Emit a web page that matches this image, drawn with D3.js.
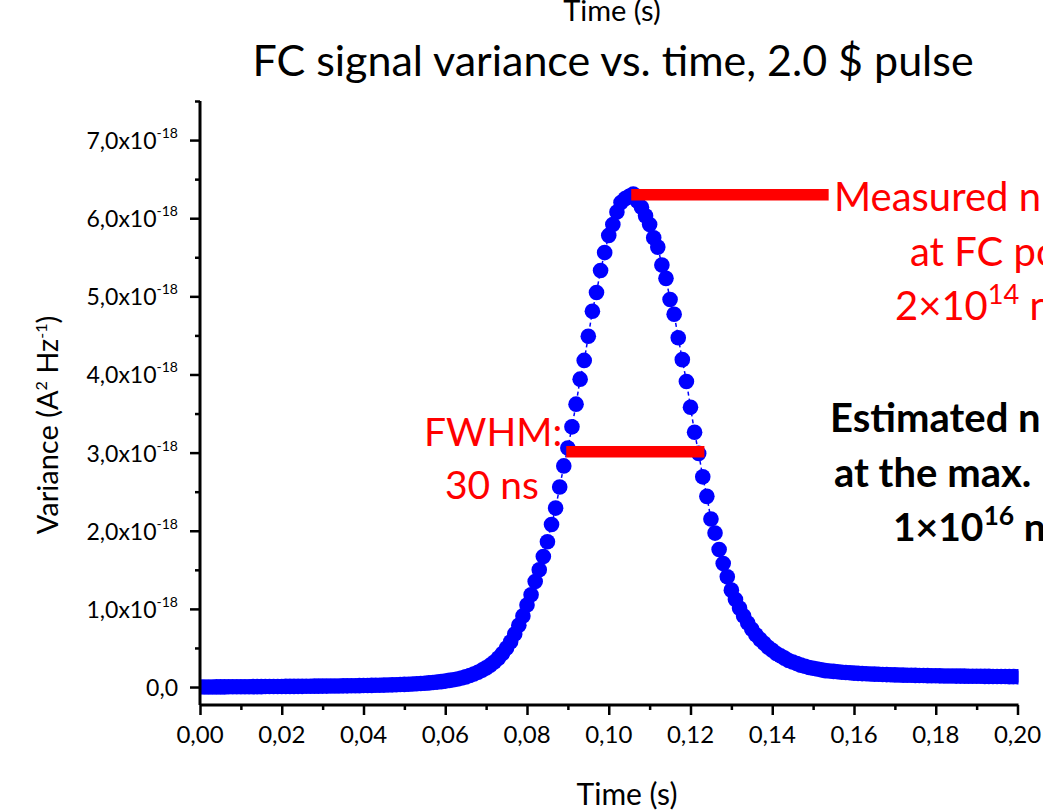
<!DOCTYPE html>
<html>
<head>
<meta charset="utf-8">
<script src="https://cdn.jsdelivr.net/npm/d3@7"></script>
<style>
  body { margin: 0; background: white; }
  text { font-family: Lato, "Open Sans", sans-serif; }
</style>
</head>
<body>
<div id="chart"></div>
<script>
var svgWidth = 1043;
var svgHeight = 810;

var margin = {
    top: 101,
    right: 25,
    bottom: 105,
    left: 200
};

var chartWidth = svgWidth - margin.left - margin.right;
var chartHeight = svgHeight - margin.top - margin.bottom;

// variance in units of 1e-18 A^2/Hz, one sample per ms from 0 to 0.200 s
var timeStep = 0.001;
var varianceData = [
    0.000, 0.001, 0.001, 0.001, 0.002, 0.002, 0.002, 0.003, 0.003, 0.003,
    0.004, 0.004, 0.004, 0.005, 0.005, 0.005, 0.006, 0.006, 0.006, 0.007,
    0.007, 0.008, 0.008, 0.008, 0.009, 0.009, 0.010, 0.010, 0.011, 0.011,
    0.012, 0.012, 0.013, 0.013, 0.014, 0.015, 0.015, 0.016, 0.017, 0.018,
    0.019, 0.020, 0.021, 0.022, 0.023, 0.025, 0.026, 0.028, 0.030, 0.032,
    0.034, 0.036, 0.039, 0.042, 0.045, 0.049, 0.053, 0.058, 0.063, 0.069,
    0.076, 0.085, 0.093, 0.103, 0.115, 0.130, 0.147, 0.167, 0.190, 0.216,
    0.245, 0.280, 0.320, 0.370, 0.430, 0.500, 0.580, 0.680, 0.790, 0.910,
    1.05, 1.18, 1.35, 1.50, 1.67, 1.86, 2.08, 2.29, 2.56, 2.83,
    3.06, 3.33, 3.62, 3.94, 4.18, 4.49, 4.81, 5.05, 5.33, 5.56,
    5.78, 5.92, 6.08, 6.20, 6.25, 6.28, 6.31, 6.22, 6.14, 6.03,
    5.92, 5.75, 5.63, 5.40, 5.23, 4.96, 4.77, 4.47, 4.19, 3.91,
    3.58, 3.26, 2.99, 2.69, 2.44, 2.15, 1.97, 1.76, 1.58, 1.41,
    1.24, 1.12, 1.01, 0.91, 0.82, 0.74, 0.67, 0.61, 0.56, 0.51,
    0.47, 0.43, 0.40, 0.37, 0.34, 0.32, 0.30, 0.28, 0.265, 0.25,
    0.24, 0.23, 0.22, 0.21, 0.205, 0.20, 0.195, 0.19, 0.186, 0.182,
    0.178, 0.175, 0.172, 0.170, 0.167, 0.165, 0.163, 0.161, 0.159, 0.157,
    0.155, 0.154, 0.152, 0.151, 0.150, 0.149, 0.148, 0.147, 0.146, 0.145,
    0.144, 0.143, 0.142, 0.142, 0.141, 0.140, 0.140, 0.139, 0.138, 0.138,
    0.137, 0.137, 0.136, 0.136, 0.135, 0.135, 0.134, 0.134, 0.133, 0.133,
    0.132
];

var xTickValues = [0, 0.02, 0.04, 0.06, 0.08, 0.10, 0.12, 0.14, 0.16, 0.18, 0.20];
var xTickLabels = ["0,00", "0,02", "0,04", "0,06", "0,08", "0,10", "0,12", "0,14", "0,16", "0,18", "0,20"];
var yTickValues = [0, 1, 2, 3, 4, 5, 6, 7];
var yTickLabels = ["0,0", "1,0", "2,0", "3,0", "4,0", "5,0", "6,0", "7,0"];

// annotation bars: [t start, t end, variance]
var measuredBar = [0.1055, 0.1538, 6.30];
var fwhmBar = [0.0896, 0.1234, 3.01];

var points = varianceData.map(function(v, i) {
    return { t: i * timeStep, v: v };
});

var svg = d3.select("#chart")
    .append("svg")
    .attr("width", svgWidth)
    .attr("height", svgHeight);

var chartGroup = svg.append("g")
    .attr("transform", `translate(${margin.left}, ${margin.top})`);

var xScale = d3.scaleLinear()
    .domain([0, 0.20])
    .range([0, chartWidth - 0.5]);

var yScale = d3.scaleLinear()
    .domain([-0.23, 7.5])
    .range([chartHeight, 0]);

svg.append("defs").append("clipPath")
    .attr("id", "plotClip")
    .append("rect")
    .attr("x", 0)
    .attr("y", -20)
    .attr("width", xScale(0.20) + 1)
    .attr("height", chartHeight + 20);

// data: dashed connecting line + dots
var plotGroup = chartGroup.append("g")
    .attr("clip-path", "url(#plotClip)");

var createLine = d3.line()
    .x(d => xScale(d.t))
    .y(d => yScale(d.v));

plotGroup.append("path")
    .attr("d", createLine(points))
    .attr("fill", "none")
    .attr("stroke", "#0000ff")
    .attr("stroke-width", 1.5)
    .attr("stroke-dasharray", "4,3");

plotGroup.selectAll("circle")
    .data(points)
    .enter()
    .append("circle")
    .attr("cx", d => xScale(d.t))
    .attr("cy", d => yScale(d.v))
    .attr("r", 7.8)
    .attr("fill", "#0000ff");

// red annotation bars
[measuredBar, fwhmBar].forEach(function(b) {
    chartGroup.append("line")
        .attr("x1", xScale(b[0]))
        .attr("x2", xScale(b[1]))
        .attr("y1", yScale(b[2]))
        .attr("y2", yScale(b[2]))
        .attr("stroke", "#ff0000")
        .attr("stroke-width", 11.5);
});

// axes
var bottomAxis = d3.axisBottom(xScale)
    .tickValues(d3.range(0, 0.2001, 0.01))
    .tickSize(0)
    .tickFormat("");
var xAxis = chartGroup.append("g")
    .attr("transform", `translate(0, ${chartHeight})`)
    .call(bottomAxis);

xAxis.selectAll(".tick line").remove();
xAxis.selectAll(".tick").each(function(d, i) {
    d3.select(this).append("line")
        .attr("y2", i % 2 === 0 ? 10 : 5)
        .attr("stroke", "black")
        .attr("stroke-width", 2.5);
});
xAxis.select(".domain").attr("stroke-width", 3).attr("d", `M0,0H${xScale(0.20) + 1}`);

xAxis.selectAll(".xlab")
    .data(xTickValues)
    .enter()
    .append("text")
    .attr("class", "xlab")
    .attr("x", d => xScale(d))
    .attr("y", 38)
    .attr("text-anchor", "middle")
    .attr("fill", "black")
    .style("font-size", "24px")
    .text((d, i) => xTickLabels[i]);

var leftAxis = d3.axisLeft(yScale)
    .tickValues(d3.range(0, 7.51, 0.5))
    .tickSize(0)
    .tickFormat("");
var yAxis = chartGroup.append("g")
    .call(leftAxis);

yAxis.selectAll(".tick").each(function(d, i) {
    d3.select(this).append("line")
        .attr("x2", i % 2 === 0 ? -10 : -5)
        .attr("stroke", "black")
        .attr("stroke-width", 2.5);
});
yAxis.select(".domain").attr("stroke-width", 3).attr("d", `M0,0V${chartHeight}`);

var yLab = yAxis.selectAll(".ylab")
    .data(yTickValues)
    .enter()
    .append("text")
    .attr("class", "ylab")
    .attr("x", -22)
    .attr("y", d => yScale(d) + 9)
    .attr("text-anchor", "end")
    .attr("fill", "black")
    .style("font-size", "23px");

yLab.each(function(d, i) {
    var t = d3.select(this);
    t.append("tspan").text(yTickLabels[i]);
    if (d !== 0) {
        t.append("tspan").text("x10");
        t.append("tspan")
            .attr("dy", -11)
            .style("font-size", "14px")
            .text("-18");
    }
});

// titles
svg.append("text")
    .attr("x", 612)
    .attr("y", 21)
    .attr("text-anchor", "middle")
    .style("font-size", "29px")
    .text("Time (s)");

svg.append("text")
    .attr("x", 613)
    .attr("y", 76)
    .attr("text-anchor", "middle")
    .style("font-size", "43px")
    .text("FC signal variance vs. time, 2.0 $ pulse");

svg.append("text")
    .attr("x", 627)
    .attr("y", 805)
    .attr("text-anchor", "middle")
    .style("font-size", "30px")
    .text("Time (s)");

var yTitle = svg.append("text")
    .attr("transform", "translate(58, 425) rotate(-90)")
    .attr("text-anchor", "middle")
    .style("font-size", "29px");
yTitle.append("tspan").text("Variance (A");
yTitle.append("tspan").attr("dy", -11).style("font-size", "16px").text("2");
yTitle.append("tspan").attr("dy", 11).text(" Hz");
yTitle.append("tspan").attr("dy", -11).style("font-size", "16px").text("-1");
yTitle.append("tspan").attr("dy", 11).text(")");

// annotation text
var red = "#ff0000";
function addText(x, y, size, color, weight, parts) {
    var t = svg.append("text")
        .attr("x", x)
        .attr("y", y)
        .attr("fill", color)
        .style("font-size", size + "px")
        .style("font-weight", weight);
    parts.forEach(function(p) {
        var s = t.append("tspan").text(p.text);
        if (p.sup) s.attr("dy", -size * 0.4).style("font-size", (size * 0.68) + "px");
        if (p.down) s.attr("dy", size * 0.4);
    });
    return t;
}

addText(834, 211, 40, red, "normal", [{ text: "Measured n" }]);
addText(910, 266, 40, red, "normal", [{ text: "at FC po" }]);
addText(895, 320, 40, red, "normal", [{ text: "2×10" }, { text: "14", sup: true }, { text: " n", down: true }]);

addText(424, 446, 39, red, "normal", [{ text: "FWHM:" }]);
addText(445, 499, 39, red, "normal", [{ text: "30 ns" }]);

addText(830, 432, 40, "black", "bold", [{ text: "Estimated n" }]);
addText(834, 487, 40, "black", "bold", [{ text: "at the max." }]);
addText(893, 541, 39, "black", "bold", [{ text: "1×10" }, { text: "16", sup: true }, { text: " n", down: true }]);
</script>
</body>
</html>
